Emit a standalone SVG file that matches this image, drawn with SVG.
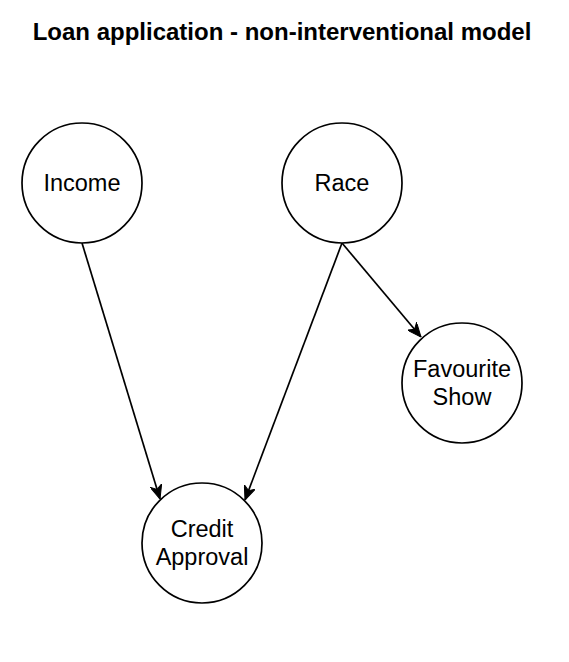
<svg xmlns="http://www.w3.org/2000/svg" width="569" height="662" viewBox="0 0 569 662">
<style>
.node{fill:#fff;stroke:#000;stroke-width:1.7}
.lbl{font-family:"Liberation Sans",Arial,Helvetica,sans-serif;font-size:23.5px;fill:#000;text-anchor:middle}
.title{font-family:"Liberation Sans",Arial,Helvetica,sans-serif;font-size:24px;font-weight:bold;fill:#000;text-anchor:middle}
.edge{fill:none;stroke:#000;stroke-width:1.7;marker-end:url(#arr)}
</style>
<defs>
<marker id="arr" viewBox="0 0 14 12" refX="14" refY="6" markerWidth="14" markerHeight="12" markerUnits="userSpaceOnUse" orient="auto">
<path d="M0,0 L14,6 L0,12 L4,6 Z" fill="#000" stroke="#000" stroke-width="1"/>
</marker>
</defs>
<rect width="569" height="662" fill="#fff"/>
<text class="title" x="282" y="40">Loan application - non-interventional model</text>
<g id="connectors">
<path class="edge" d="M82,243 L160,499"/>
<path class="edge" d="M342,243 L245,500"/>
<path class="edge" d="M342,243 L421,337"/>
</g>
<g id="income">
<circle class="node" cx="82" cy="183" r="60"/>
<text class="lbl" x="82" y="191">Income</text>
</g>
<g id="race">
<circle class="node" cx="342" cy="183" r="60"/>
<text class="lbl" x="342" y="191">Race</text>
</g>
<g id="favourite-show">
<circle class="node" cx="462" cy="383" r="60"/>
<text class="lbl" x="462" y="377">Favourite</text>
<text class="lbl" x="462" y="405">Show</text>
</g>
<g id="credit-approval">
<circle class="node" cx="202" cy="543" r="60"/>
<text class="lbl" x="202" y="537">Credit</text>
<text class="lbl" x="202" y="565">Approval</text>
</g>
</svg>
